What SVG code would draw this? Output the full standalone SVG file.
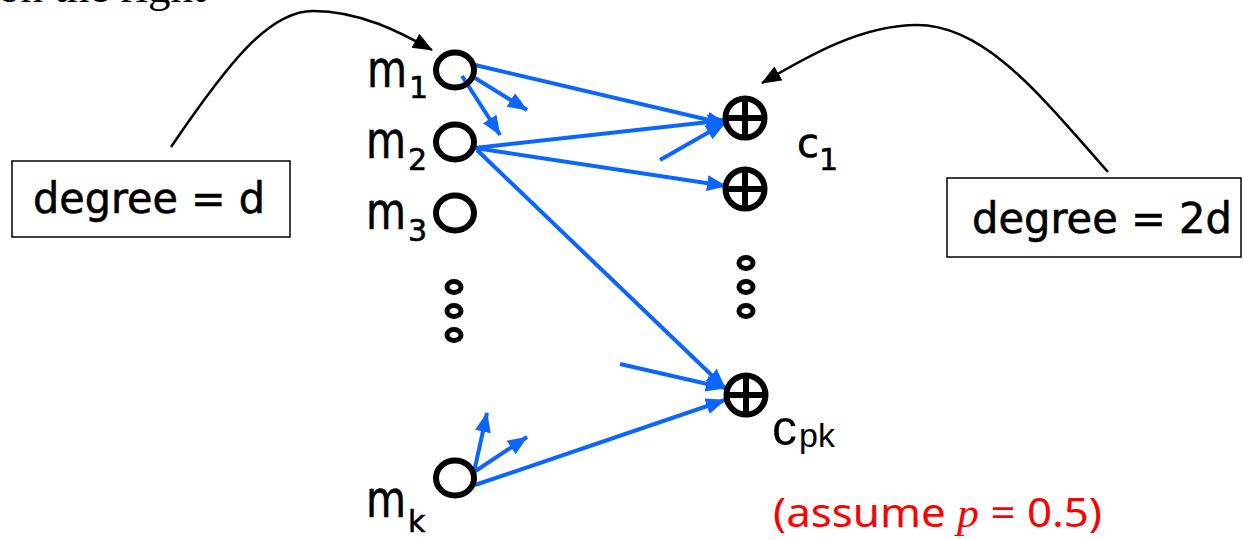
<svg xmlns="http://www.w3.org/2000/svg" width="1243" height="540" viewBox="0 0 1243 540">
<style>
.lbl{font-family:"DejaVu Sans","Liberation Sans",sans-serif;fill:#000;stroke:#000;stroke-width:0.6}
.box{fill:#fff;stroke:#000;stroke-width:1.5}
.var{fill:none;stroke:#000;stroke-width:6}
.chk{fill:none;stroke:#000;stroke-width:6}
.dot{fill:none;stroke:#000;stroke-width:5}
.blue{stroke:#0a66ff;stroke-width:4;fill:none;marker-end:url(#bh)}
.blk{stroke:#000;stroke-width:2.5;fill:none;marker-end:url(#kh)}
</style>
<defs>
<marker id="bh" markerUnits="userSpaceOnUse" markerWidth="24" markerHeight="20" refX="19" refY="8" orient="auto" viewBox="0 0 24 20">
<path d="M0,0 L20,8 L0,16 Z" fill="#0a66ff"/>
</marker>
<marker id="kh" markerUnits="userSpaceOnUse" markerWidth="24" markerHeight="20" refX="19" refY="8" orient="auto" viewBox="0 0 24 20">
<path d="M0,0 L20,8 L0,16 Z" fill="#000"/>
</marker>
</defs>
<rect width="1243" height="540" fill="#fff"/>
<text x="-2" y="2" font-family="Liberation Serif,serif" font-size="45" fill="#000">on the right</text>

<g id="connectors">
<path class="blk" d="M171,147 C230,60 270,11 313,11 C360,11 400,32 432,50"/>
<path class="blk" d="M1108,172 C1040,95 985,25 917,25 C860,25 805,58 762,83"/>
<line class="blue" x1="475" y1="65" x2="726" y2="124"/>
<line class="blue" x1="475" y1="148" x2="727" y2="120"/>
<line class="blue" x1="660" y1="160" x2="725" y2="123"/>
<line class="blue" x1="475" y1="148" x2="726" y2="186"/>
<line class="blue" x1="462" y1="76" x2="500" y2="135"/>
<line class="blue" x1="475" y1="78" x2="527" y2="110"/>
<line class="blue" x1="477" y1="150" x2="725" y2="388"/>
<line class="blue" x1="620" y1="364" x2="725" y2="388"/>
<line class="blue" x1="475" y1="485" x2="725" y2="400"/>
<line class="blue" x1="474" y1="472" x2="487" y2="413"/>
<line class="blue" x1="474" y1="472" x2="527" y2="437"/>
</g>

<g id="box-d">
<rect class="box" x="12" y="161" width="278" height="76"/>
<text class="lbl" x="33" y="213" font-size="42" textLength="232" lengthAdjust="spacingAndGlyphs">degree = d</text>
</g>
<g id="box-2d">
<rect class="box" x="947" y="178" width="294" height="79"/>
<text class="lbl" x="972" y="233" font-size="42" textLength="260" lengthAdjust="spacingAndGlyphs">degree = 2d</text>
</g>

<g id="m1">
<ellipse class="var" cx="455" cy="70" rx="19" ry="17.5"/>
<text class="lbl" x="367" y="87" font-size="52" textLength="40" lengthAdjust="spacingAndGlyphs">m</text>
<text class="lbl" x="409" y="98" font-size="30">1</text>
</g>
<g id="m2">
<ellipse class="var" cx="455" cy="142" rx="19" ry="17.5"/>
<text class="lbl" x="366" y="158" font-size="52" textLength="40" lengthAdjust="spacingAndGlyphs">m</text>
<text class="lbl" x="408" y="170" font-size="30">2</text>
</g>
<g id="m3">
<ellipse class="var" cx="455" cy="213" rx="19" ry="17.5"/>
<text class="lbl" x="366" y="229" font-size="52" textLength="40" lengthAdjust="spacingAndGlyphs">m</text>
<text class="lbl" x="408" y="241" font-size="30">3</text>
</g>
<g id="m-dots">
<ellipse class="dot" cx="454" cy="287" rx="7" ry="5.5"/>
<ellipse class="dot" cx="454" cy="311" rx="7" ry="5.5"/>
<ellipse class="dot" cx="454" cy="335" rx="7" ry="5.5"/>
</g>
<g id="mk">
<ellipse class="var" cx="455" cy="478" rx="19" ry="17.5"/>
<text class="lbl" x="366" y="517" font-size="52" textLength="40" lengthAdjust="spacingAndGlyphs">m</text>
<text class="lbl" x="408" y="532" font-size="30">k</text>
</g>

<g id="c1">
<circle class="chk" cx="745" cy="118" r="19.5"/>
<path class="chk" d="M745,98.5 V137.5 M725.5,118 H764.5"/>
<text class="lbl" x="797" y="157" font-size="40">c</text>
<text class="lbl" x="819" y="170" font-size="30">1</text>
</g>
<g id="c2">
<circle class="chk" cx="745" cy="189" r="19.5"/>
<path class="chk" d="M745,169.5 V208.5 M725.5,189 H764.5"/>
</g>
<g id="c-dots">
<ellipse class="dot" cx="746" cy="263" rx="7" ry="5.5"/>
<ellipse class="dot" cx="746" cy="287" rx="7" ry="5.5"/>
<ellipse class="dot" cx="746" cy="311" rx="7" ry="5.5"/>
</g>
<g id="cpk">
<circle class="chk" cx="746" cy="395" r="19.5"/>
<path class="chk" d="M746,375.5 V414.5 M726.5,395 H765.5"/>
<text x="772" y="445" font-family="Liberation Sans,sans-serif" font-size="50" fill="#000">c</text>
<text x="799" y="447" font-family="Liberation Sans,sans-serif" font-size="34" fill="#000">pk</text>
</g>

<text x="773" y="527" font-family="Noto Sans,Liberation Sans,sans-serif" font-size="40" fill="#ff0000" textLength="329" lengthAdjust="spacingAndGlyphs">(assume <tspan font-family="Liberation Serif,serif" font-style="italic">p</tspan> = 0.5)</text>
</svg>
